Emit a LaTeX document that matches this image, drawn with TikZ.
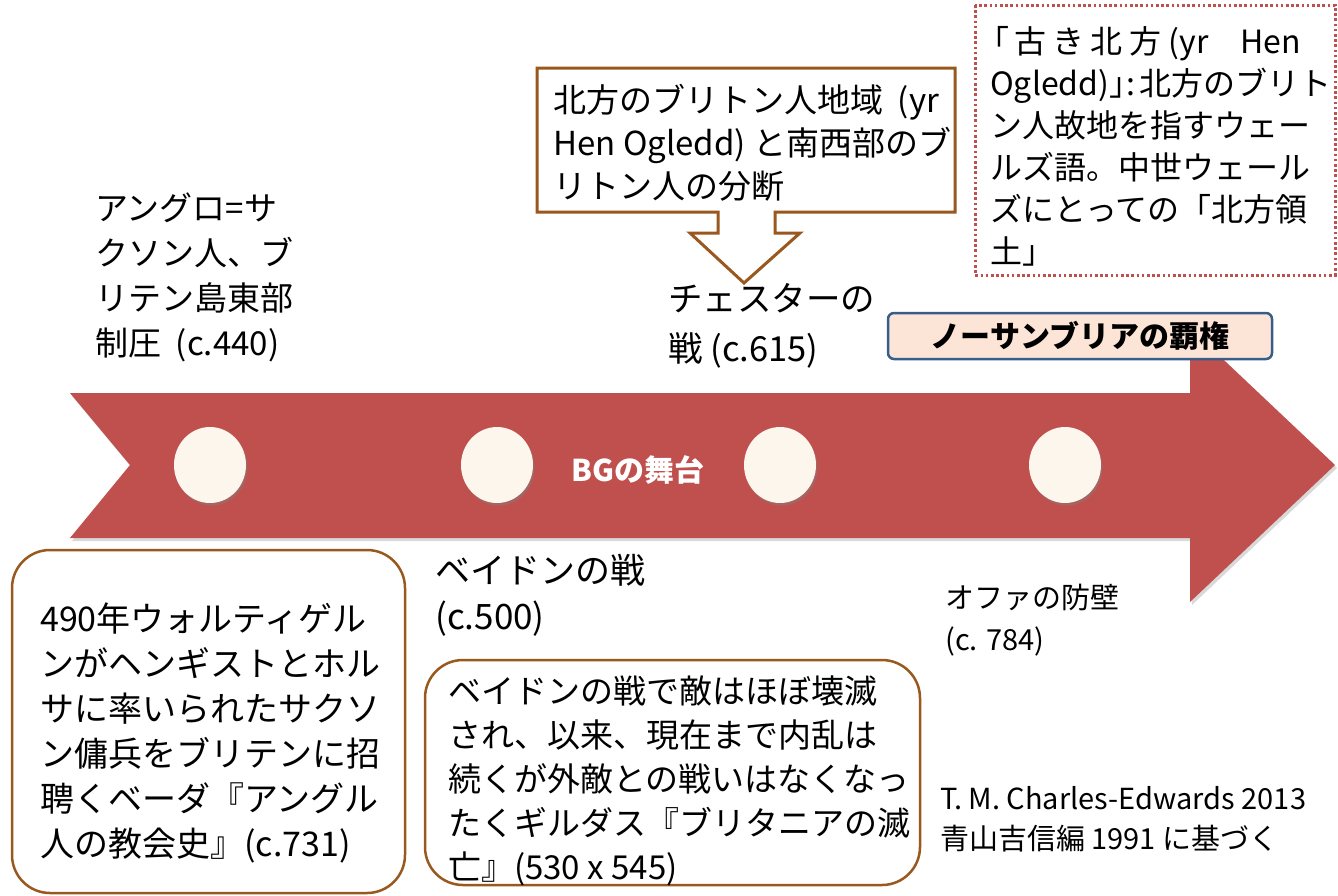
\documentclass[tikz,border=0pt]{standalone}
\usepackage{fontspec}
\setmainfont{Noto Sans CJK JP}
\usetikzlibrary{shadows,shapes.geometric}
\definecolor{ribbon}{RGB}{192,80,77}
\definecolor{brownline}{RGB}{152,88,30}
\definecolor{cream}{RGB}{253,246,236}
\definecolor{peach}{RGB}{252,228,214}
\definecolor{navyline}{RGB}{56,93,138}
\newcommand{\fsz}[2]{\fontsize{#1}{#2}\selectfont}
\tikzset{
  lbl/.style={anchor=north west, inner sep=0pt, align=left, text=black},
  dot/.style={ellipse, fill=cream, minimum width=72pt, minimum height=76pt, inner sep=0pt,
    drop shadow={opacity=0.45, shadow xshift=1.5pt, shadow yshift=-2.5pt}},
  roundbox/.style={draw=brownline, line width=2.5pt, rounded corners=38pt, fill=white},
}
\begin{document}
\begin{tikzpicture}[x=1pt,y=-1pt]
\useasboundingbox (0,0) rectangle (1338,895);
% ribbon arrow
\fill[ribbon, drop shadow={opacity=0.3, shadow xshift=2pt, shadow yshift=-3pt}]
  (70,393) -- (1190,393) -- (1190,328) -- (1335,465) -- (1190,602) -- (1190,538)
  -- (70,538) -- (130,465) -- cycle;
% dots
\node[dot] (d1) at (210,465) {};
\node[dot] (d2) at (497,465) {};
\node[dot] (d3) at (780,465) {};
\node[dot] (d4) at (1065,465) {};
\node[text=white, font=\fsz{30}{30}\bfseries, inner sep=0pt] (stage) at (638,470) {BGの舞台};
% top-left label
\node[lbl, font=\fsz{33}{45}] (anglo) at (95,193) {アングロ=サ\\クソン人、ブ\\リテン島東部\\制圧\ \ (c.440)};
% chester
\node[lbl, font=\fsz{34.5}{50}] (chester) at (668,283) {チェスターの\\戦 (c.615)};
% callout
\draw[brownline, line width=3pt, fill=white, line join=miter]
  (537,68) -- (955,68) -- (955,212) -- (775,212) -- (775,233) -- (800,233) -- (744,283)
  -- (690,233) -- (718,233) -- (718,212) -- (537,212) -- cycle;
\node[lbl, font=\fsz{33}{43}] (north) at (553,84) {北方のブリトン人地域\ \ (yr\\Hen Ogledd) と南西部のブ\\リトン人の分断};
% dotted box
\draw[ribbon, line width=3pt, dash pattern=on 2.6pt off 2.6pt] (975,5) rectangle (1335,275);
\node[lbl, font=\fsz{32}{42}] (old) at (990,26) {\kern-0.4em「\kern0.15em 古\kern0.2em き\kern0.2em 北\kern0.2em 方 (yr\quad Hen\\Ogledd)」\kern-0.45em:\kern0.1em 北方のブリト\\ン人故地を指すウェー\\ルズ語。中世ウェール\\ズにとっての「北方領\\土」};
% northumbria box
\node[draw=navyline, line width=2.5pt, fill=peach, rounded corners=6pt, minimum width=384pt,
  minimum height=46pt, font=\fsz{30}{30}\bfseries, inner sep=0pt] (nhb) at (1080,336) {ノーサンブリアの覇権};
% badon
\node[lbl, font=\fsz{35}{46}] (badon) at (435,554) {ベイドンの戦\\(c.500)};
% offa
\node[lbl, font=\fsz{29}{42}] (offa) at (945,584) {オファの防壁\\(c. 784)};
% credit
\node[lbl, font=\fsz{29}{40}] (credit) at (940,786) {T. M. Charles-Edwards 2013\\青山吉信編 1991 に基づく};
% box 1
\draw[roundbox] (12,550) rectangle (405,893);
\node[lbl, font=\fsz{34}{45}] (bede) at (40,603) {490年ウォルティゲル\\ンがヘンギストとホル\\サに率いられたサクソ\\ン傭兵をブリテンに招\\聘くベーダ『アングル\\人の教会史』(c.731)};
% box 2
\draw[roundbox] (425,660) rectangle (920,885);
\node[lbl, font=\fsz{33}{44}] (gildas) at (448,676) {ベイドンの戦で敵はほぼ壊滅\\され、以来、現在まで内乱は\\続くが外敵との戦いはなくなっ\\たくギルダス『ブリタニアの滅\\亡』(530 x 545)};
\end{tikzpicture}
\end{document}
